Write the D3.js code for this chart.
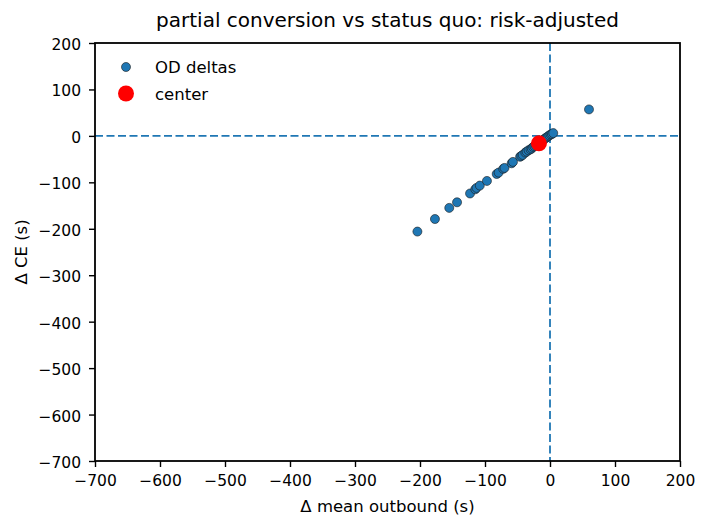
<!DOCTYPE html>
<html>
<head>
<meta charset="utf-8">
<script src="https://cdn.jsdelivr.net/npm/d3@7"></script>
<style>
  body { margin: 0; background: #fff; }
  text { font-family: "DejaVu Sans", sans-serif; fill: #000; }
</style>
</head>
<body>
<div id="chart"></div>
<script>
// OD deltas
var deltaMean = [60, -204, -177, -155, -143, -123, -115, -113, -108, -97, -82, -79, -72, -70,
    -59, -57, -46, -44, -42, -38, -36, -33, -30, -28, -26, -24, -22, -20, -18, -15,
    -13, -11, -9, -7, -5, -3, -1, 1, 3, 5];
var deltaCE = [57, -206, -179, -155, -143, -124, -115, -112, -107, -97, -82, -79, -71, -69,
    -59, -56, -45, -43, -41, -36, -34, -31, -29, -27, -24, -22, -20, -18, -16, -13,
    -11, -9, -7, -5, -3, -1, 1, 3, 4, 6];
var centerX = [-17];
var centerY = [-16];
var xTicks = [-700, -600, -500, -400, -300, -200, -100, 0, 100, 200];
var yTicks = [200, 100, 0, -100, -200, -300, -400, -500, -600, -700];

var width = 707, height = 527;
var margin = {top: 43, right: 27, bottom: 66, left: 95};
var drawWidth = width - margin.left - margin.right;
var drawHeight = height - margin.top - margin.bottom;
var blue = '#1f77b4';

var svg = d3.select('#chart').append('svg')
    .attr('width', width)
    .attr('height', height);

var xScale = d3.scaleLinear().domain([-700, 200]).range([0, drawWidth]);
var yScale = d3.scaleLinear().domain([-700, 200]).range([drawHeight, 0]);

// Title
svg.append('text')
    .attr('x', margin.left + drawWidth / 2)
    .attr('y', 27)
    .attr('text-anchor', 'middle')
    .style('font-size', '20px')
    .text('partial conversion vs status quo: risk-adjusted');

var g = svg.append('g')
    .attr('transform', 'translate(' + margin.left + ',' + margin.top + ')');

// Zero reference lines
g.append('line')
    .attr('x1', 0).attr('x2', drawWidth)
    .attr('y1', yScale(0)).attr('y2', yScale(0))
    .attr('stroke', blue).attr('stroke-width', 1.8)
    .attr('stroke-dasharray', '8,3.5');
g.append('line')
    .attr('x1', xScale(0)).attr('x2', xScale(0))
    .attr('y1', 0).attr('y2', drawHeight)
    .attr('stroke', blue).attr('stroke-width', 1.8)
    .attr('stroke-dasharray', '8,3.5');

// Points
var pts = d3.range(deltaMean.length).map(function(i) { return {x: deltaMean[i], y: deltaCE[i]}; });
g.selectAll('.pt').data(pts).enter()
    .append('circle')
    .attr('class', 'pt')
    .attr('cx', function(d) { return xScale(d.x); })
    .attr('cy', function(d) { return yScale(d.y); })
    .attr('r', 4.5)
    .attr('fill', blue)
    .attr('stroke', '#1a1a1a')
    .attr('stroke-width', 0.6);

// Center
g.selectAll('.center').data(centerX).enter()
    .append('circle')
    .attr('class', 'center')
    .attr('cx', function(d) { return xScale(d); })
    .attr('cy', function(d, i) { return yScale(centerY[i]); })
    .attr('r', 8)
    .attr('fill', 'red');

// Axes
var fmt = function(d) { return d < 0 ? '\u2212' + Math.abs(d) : d; };
var xAxis = d3.axisBottom(xScale).tickValues(xTicks).tickSize(6).tickPadding(8).tickFormat(fmt);
var yAxis = d3.axisLeft(yScale).tickValues(yTicks).tickSize(6).tickPadding(8).tickFormat(fmt);

var xg = g.append('g').attr('transform', 'translate(0,' + drawHeight + ')').call(xAxis);
var yg = g.append('g').call(yAxis);
[xg, yg].forEach(function(a) {
    a.select('.domain').remove();
    a.selectAll('line').attr('stroke', '#000').attr('stroke-width', 1.4);
    a.selectAll('text').style('font-size', '15.5px').attr('font-family', 'DejaVu Sans');
});
yg.selectAll('text').attr('dy', '0.42em');

// Frame
g.append('rect')
    .attr('width', drawWidth).attr('height', drawHeight)
    .attr('fill', 'none').attr('stroke', '#000').attr('stroke-width', 1.8);

// Axis titles
svg.append('text')
    .attr('x', margin.left + drawWidth / 2)
    .attr('y', 512)
    .attr('text-anchor', 'middle')
    .style('font-size', '16.5px')
    .text('\u0394 mean outbound (s)');
svg.append('text')
    .attr('transform', 'translate(27,' + (margin.top + drawHeight / 2) + ') rotate(-90)')
    .attr('text-anchor', 'middle')
    .style('font-size', '16.5px')
    .text('\u0394 CE (s)');

// Legend
var legend = svg.append('g');
legend.append('circle').attr('cx', 126).attr('cy', 67).attr('r', 4.5)
    .attr('fill', blue).attr('stroke', '#1a1a1a').attr('stroke-width', 0.6);
legend.append('text').attr('x', 155).attr('y', 73).style('font-size', '16.5px').text('OD deltas');
legend.append('circle').attr('cx', 126).attr('cy', 93.5).attr('r', 8)
    .attr('fill', 'red');
legend.append('text').attr('x', 155).attr('y', 99.5).style('font-size', '16.5px').text('center');
</script>
</body>
</html>
